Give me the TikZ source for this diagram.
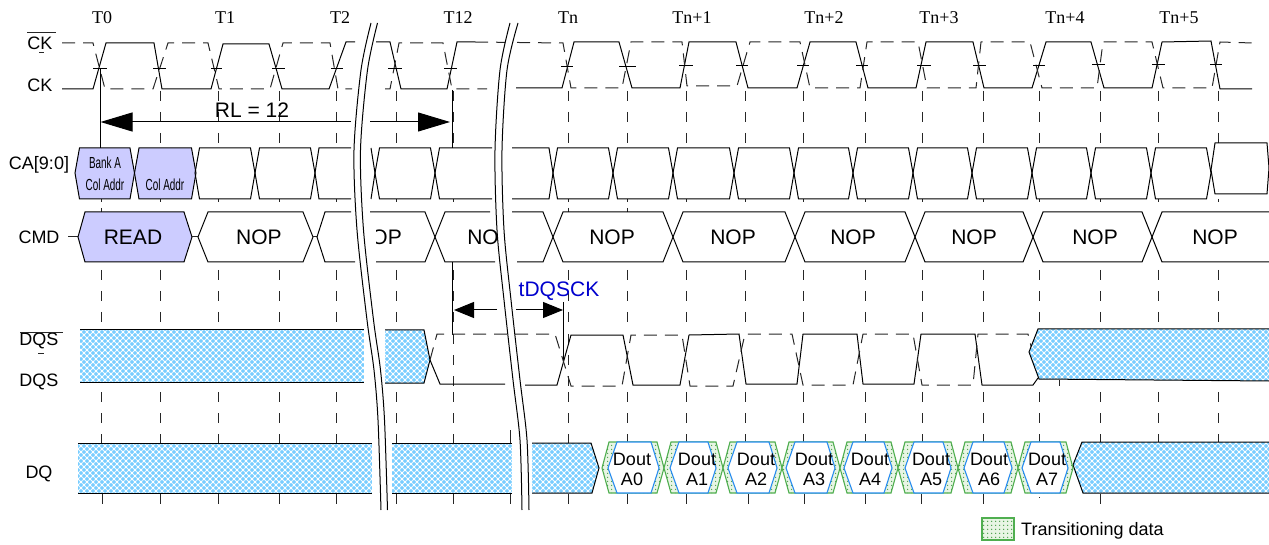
\documentclass[tikz,border=0pt]{standalone}
\usepackage{fontspec}
\setmainfont{Liberation Sans}
\newfontfamily\serifT{Liberation Serif}
\usetikzlibrary{patterns.meta,arrows.meta}
\definecolor{lav}{RGB}{204,204,255}
\definecolor{skyb}{RGB}{120,205,255}
\definecolor{grn}{RGB}{80,175,80}
\definecolor{grnbg}{RGB}{232,245,228}
\definecolor{hexb}{RGB}{40,140,240}
\definecolor{tblue}{RGB}{0,0,205}
\newcommand\fs[1]{\fontsize{#1}{#1}\selectfont}
\tikzset{
 x=1pt,y=-1pt,
 wave/.style={draw=black,line width=1pt,line join=miter},
 dashw/.style={draw=black!85,line width=1pt,dash pattern=on 13pt off 8pt},
 guide/.style={draw=black!85,line width=1pt,dash pattern=on 10pt off 11pt},
 stub/.style={draw=black!85,line width=1pt},
 tick/.style={draw=black,line width=0.9pt},
 clk/.style={font=\serifT\fs{18},anchor=center,inner sep=0pt},
 lab/.style={font=\fs{18},anchor=center,inner sep=0pt},
 big/.style={font=\fs{21},anchor=center,inner sep=0pt},
 dout/.style={font=\fs{18},anchor=center,inner sep=0pt,align=center},
 small/.style={anchor=center,inner sep=0pt},
 blue block/.style={fill=skyb,postaction={pattern={Lines[angle=45,distance=4.2426pt,line width=0.85pt]},pattern color=white},postaction={pattern={Lines[angle=-45,distance=4.2426pt,line width=0.85pt]},pattern color=white}},
 green block/.style={draw=grn,line width=1.1pt,fill=grnbg,postaction={pattern={Dots[distance=4pt,radius=0.85pt]},pattern color=grn!90!black}},
 bigarrow/.style={draw=black,line width=1pt,-{Triangle[length=32pt,width=19pt,fill=black]}},
 midarrow/.style={draw=black,line width=1pt,-{Triangle[length=20pt,width=16pt,fill=black]}},
}
\newcommand\cabox[2]{\draw[wave] (#1,173)--(#1+4.5,148)--(#2-4.5,148)--(#2,173)--(#2-4.5,199)--(#1+4.5,199)--cycle;}
\newcommand\cmdhex[2]{\draw[wave] (#1,237)--(#1+10,212)--(#2-10,212)--(#2,237)--(#2-10,262)--(#1+10,262)--cycle;}
\begin{document}
\begin{tikzpicture}
\useasboundingbox (0,0) rectangle (1269,545);
% ---------- clock labels
\node[clk] (t0) at (102,18) {T0};
\node[clk] (t1) at (225,18) {T1};
\node[clk] (t2) at (340,18) {T2};
\node[clk] (t12) at (458,18) {T12};
\node[clk] (tn) at (568,18) {Tn};
\node[clk] (tn1) at (692,18) {Tn+1};
\node[clk] (tn2) at (824,18) {Tn+2};
\node[clk] (tn3) at (939,18) {Tn+3};
\node[clk] (tn4) at (1065,18) {Tn+4};
\node[clk] (tn5) at (1179,18) {Tn+5};
% ---------- signal labels
\node[lab] (ckb) at (40,43) {CK};
\draw[stub] (27,33)--(56,33);
\draw[stub] (39,53)--(44,53);
\node[lab] (ck) at (40,85) {CK};
\node[lab] (ca) at (39,165) {CA[9:0]};
\node[lab] (cmd) at (39,237) {CMD};
\node[lab] (dqsb) at (39,341) {DQS};
\draw[stub] (20,332)--(63,332);
\draw[stub] (38,353)--(44,353);
\node[lab] (dqs) at (39,382) {DQS};
\node[lab] (dq) at (39,474) {DQ};
% ---------- guides
\foreach \c in {160,218,279,336,396,453,568,627,686,745,803,865,922,983,1039,1100,1158,1218}{
  \draw[guide] (\c,91)--(\c,146);
  \draw[stub] (\c,199)--(\c,202);
}
\draw[stub] (101,199)--(101,202);
\foreach \c in {101,568,627}{\draw[stub] (\c,208)--(\c,212);}
\foreach \c in {101,160,218,279,336,396,453,568,627,686,745,803,865,922,983,1039,1100,1158,1218}{
  \draw[guide] (\c,270)--(\c,324);
  \draw[guide] (\c,392)--(\c,443);
}
\foreach \c in {102,160,218,279,336,396,453,510,568,627,686,748,804,865,921,983,1100}{
  \draw[stub] (\c,494)--(\c,504);
}
\draw[stub] (510,430)--(510,443);
\draw[stub] (1039,497)--(1039,498);
\draw[stub] (1059,380)--(1059,386);
\draw[guide] (453,334)--(453,392);
\draw[guide] (568,334)--(568,392);
% ---------- CK solid
\draw[wave] (62,89)--(93,89)--(106,43)--(154,43)--(162,89)--(211,89)--(223,44)--(269,44)--(282,89)--(329,89)--(346,42)--(355,42);
\draw[wave] (376,42)--(390,42)--(401,89)--(447,89)--(457,42)--(475,42);
\draw[wave] (516,88)--(562,88)--(574,42)--(619,42)--(632,88)--(680,88)--(689,42)--(736,42)--(748,88)--(797,88)--(810,42)--(856,42)--(868,88)--(916,88)--(926,42)--(973,42)--(984,88)--(1032,88)--(1046,42)--(1091,42)--(1104,88)--(1152,88)--(1162,42)--(1211,41)--(1220,89)--(1252,89);
% ---------- CK# dashed
\draw[dashw] (62,43)--(93,43)--(105,89)--(153,89)--(168,43)--(208,43)--(219,89)--(270,89)--(283,43)--(330,43)--(338,89)--(352,89);
\draw[dashw] (385,89)--(390,89)--(399,43)--(443,43)--(452,89)--(487,89);
\draw[dashw] (475,42)--(563,43)--(571,88)--(622,88)--(631,42)--(682,42)--(687,86)--(737,86)--(750,42)--(800,42)--(810,88)--(860,88)--(867,42)--(918,42)--(927,88)--(976,88)--(981,42)--(1030,42)--(1042,88)--(1097,88)--(1103,42)--(1152,42)--(1163,88)--(1212,88)--(1220,42)--(1253,43);
% ---------- crossing ticks
\foreach \a/\b/\y in {93/107/68,153/166/68,211/222/68,272/285/68,331/343/68,388/402/68,444/457/68,561/573/66,619/636/66,679/693/65,736/748/65,797/809/65,856/868/65,917/931/65,973/986/65,1033/1045/65,1092/1105/64,1152/1165/64,1210/1222/64}{
  \draw[tick] (\a,\y)--(\b,\y);
}
% ---------- CA row
\draw[wave,fill=lav] (75,173)--(79.5,148)--(130,148)--(134.5,173)--(130,199)--(79.5,199)--cycle;
\draw[wave,fill=lav] (134.5,173)--(139,148)--(191.5,148)--(196,173)--(191.5,199)--(139,199)--cycle;
\cabox{195}{255}
\cabox{255}{315}
\draw[wave] (351,148)--(319,148)--(315,173)--(319,199)--(351,199);
\draw[wave] (371,148)--(375,173)--(371,199);
\cabox{375}{435}
\draw[wave] (492,148)--(439.5,148)--(435,173)--(439.5,199)--(492,199);
\draw[wave] (512,148)--(549,148)--(553,173)--(549,199)--(512,199);
\foreach \a/\b in {553/613,613/673,673/734,734/794,794/853,853/913,913/972,972/1032,1032/1091,1091/1151,1151/1211}{\cabox{\a}{\b}}
\draw[wave] (1211,170)--(1215,143)--(1267,143)--(1269,168)--(1267,194)--(1215,194)--cycle;
\node[small,font=\fs{16}] (bankA) at (105,163) {\scalebox{0.62}[1]{Bank A}};
\node[small,font=\fs{16}] (col1) at (105,185) {\scalebox{0.62}[1]{Col Addr}};
\node[small,font=\fs{16}] (col2) at (165,185) {\scalebox{0.62}[1]{Col Addr}};
% ---------- CMD row
\draw[stub] (68,237)--(78,237);
\draw[wave,fill=lav] (78,237)--(85,212)--(184,212)--(192,237)--(184,262)--(85,262)--cycle;
\draw[stub] (192,237)--(198,237);
\cmdhex{198}{313}
\draw[stub] (313,237)--(317,237);
\draw[wave] (351,212)--(325,212)--(317,237)--(325,262)--(355,262);
\draw[wave] (370,212)--(425,212)--(435,237)--(425,262)--(376,262);
\draw[wave] (490,212)--(445,212)--(435,237)--(445,262)--(495,262);
\draw[wave] (512,212)--(543,212)--(553,237)--(543,262)--(517,262);
\foreach \a/\b in {553/673,673/795,795/915,915/1033,1033/1152}{\cmdhex{\a}{\b}}
\draw[wave] (1269,212)--(1162,212)--(1152,237)--(1162,262)--(1269,262);
\node[big] (read) at (133,237) {READ};
\node[big] (nop1) at (259,237) {NOP};
\begin{scope}
 \clip (376,214) rectangle (430,260);
 \node[big] (nop2) at (379,237) {NOP};
\end{scope}
\begin{scope}
 \clip (440,214) rectangle (496,260);
 \node[big] (nop3) at (490,237) {NOP};
\end{scope}
\foreach \n/\x in {n4/612,n5/733,n6/853,n7/974,n8/1095,n9/1215}{\node[big] (\n) at (\x,237) {NOP};}
% ---------- RL arrows
\node[big] (rl) at (252,110) {RL = 12};
\coordinate (a0) at (100.5,68);
\coordinate (a0b) at (100.5,148);
\coordinate (a0m) at (100.5,122);
\coordinate (a1) at (351,122);
\coordinate (a2) at (370,122);
\coordinate (a12t) at (452,90);
\coordinate (a12b) at (452,148);
\coordinate (a12m) at (450,122);
\draw[wave] (a0)--(a0b);
\draw[wave] (a12t)--(a12b);
\draw[bigarrow] (a1)--(a0m);
\draw[bigarrow] (a2)--(a12m);
% ---------- tDQSCK
\coordinate (d12t) at (452,262);
\coordinate (d12b) at (452,335);
\coordinate (d12m) at (454,310);
\coordinate (dgl) at (497,310);
\coordinate (dgr) at (516,310);
\coordinate (dnt) at (563,302);
\coordinate (dnb) at (563,362);
\coordinate (dnm) at (563,310);
\draw[wave] (d12t)--(d12b);
\draw[wave] (dnt)--(dnb);
\draw[midarrow] (dgl)--(d12m);
\draw[midarrow] (dgr)--(dnm);
\node[big,text=tblue] (tdq) at (559,291) {tDQSCK};
% ---------- DQS row
\path[blue block] (80,330) rectangle (364,382);
\draw[wave] (80,330)--(364,330);
\draw[wave] (80,382)--(364,382);
\path[blue block] (385,330)--(424,330)--(430,360)--(424,383)--(385,383)--cycle;
\draw[wave] (385,330)--(424,330)--(430,360)--(424,383)--(385,383);
\draw[wave] (430,360)--(440,384)--(505,384);
\draw[wave] (525,385)--(557,385)--(571,335)--(623,335)--(633,385)--(680,385)--(689,335)--(739,334)--(746,384)--(797,384)--(803,334)--(857,334)--(863,384)--(914,384)--(921,334)--(975,334)--(982,385)--(1033,385)--(1038,378);
\draw[dashw] (430,360)--(437,334)--(555,334)--(571,386)--(622,386)--(631,335)--(682,335)--(690,386)--(733,386)--(745,334)--(792,334)--(803,385)--(853,385)--(863,334)--(913,334)--(922,385)--(973,385)--(978,334)--(1028,334)--(1032,350);
\path[blue block] (1029,352)--(1038,329)--(1269,329)--(1269,381)--(1039,379)--cycle;
\draw[wave] (1269,329)--(1038,329)--(1029,352)--(1039,379)--(1269,381);
% ---------- DQ row
\path[blue block] (78,443) rectangle (372,493);
\draw[wave] (78,443)--(372,443);
\draw[wave] (78,493)--(372,493);
\path[blue block] (392,443) rectangle (512,493);
\draw[wave] (392,443)--(512,443);
\draw[wave] (392,493)--(512,493);
\path[blue block] (532,443)--(591,443)--(599,468)--(592,493)--(532,493)--cycle;
\draw[wave] (532,443)--(591,443)--(599,468)--(592,493)--(532,493);
\path[blue block] (1073,465)--(1082,442)--(1269,442)--(1269,493)--(1083,493)--cycle;
\draw[wave] (1269,442)--(1082,442)--(1073,465)--(1083,493)--(1269,493);
% ---------- data eyes: waist-left / waist-right / blue tip left / blue tip right / text x
\foreach \wl/\wr/\bl/\br/\tx/\na in {602/664/608/659/632/0,664/723/670/716/697/1,723/782/728/777/756/2,782/840/786/835/814/3,840/898/844/892/870/4,898/958/905/951/931/5,958/1018/964/1012/989/6,1018/1073/1022/1068/1047/7}{
  \path[green block] (\wl,468)--(\wl+7,442)--(\wr-7,442)--(\wr,468)--(\wr-7,493)--(\wl+7,493)--cycle;
  \draw[line width=1.1pt,draw=hexb,fill=white] (\bl,468)--(\bl+9,442)--(\br-8,442)--(\br,468)--(\br-8,493)--(\bl+9,493)--cycle;
  \node[dout] (d\na) at (\tx,469.5) {Dout\\[2pt]A\na};
}
% ---------- break bands
\fill[white] plot[smooth] coordinates {(371,23)(361,70)(354,150)(357,230)(367,320)(374,370)(378,420)(381,510)} -- plot[smooth] coordinates {(387.5,510)(384.5,420)(380.5,370)(373.5,320)(363.5,230)(360.5,150)(367.5,70)(377.5,23)} -- cycle;
\draw[wave] plot[smooth] coordinates {(371,23)(361,70)(354,150)(357,230)(367,320)(374,370)(378,420)(381,510)};
\draw[wave] plot[smooth] coordinates {(377.5,23)(367.5,70)(360.5,150)(363.5,230)(373.5,320)(380.5,370)(384.5,420)(387.5,510)};
\fill[white] plot[smooth] coordinates {(510,23)(500,70)(495,150)(497,230)(504,300)(513,380)(520,440)(522,510)} -- plot[smooth] coordinates {(529,510)(527,440)(520,380)(511,300)(504,230)(502,150)(507,70)(518,23)} -- cycle;
\draw[wave] plot[smooth] coordinates {(510,23)(500,70)(495,150)(497,230)(504,300)(513,380)(520,440)(522,510)};
\draw[wave] plot[smooth] coordinates {(518,23)(507,70)(502,150)(504,230)(511,300)(520,380)(527,440)(529,510)};
% ---------- legend
\path[green block] (982,518) rectangle (1014,540);
\node[font=\fs{18},anchor=west,inner sep=0pt] (leg) at (1021,531) {Transitioning data};
\end{tikzpicture}
\end{document}
